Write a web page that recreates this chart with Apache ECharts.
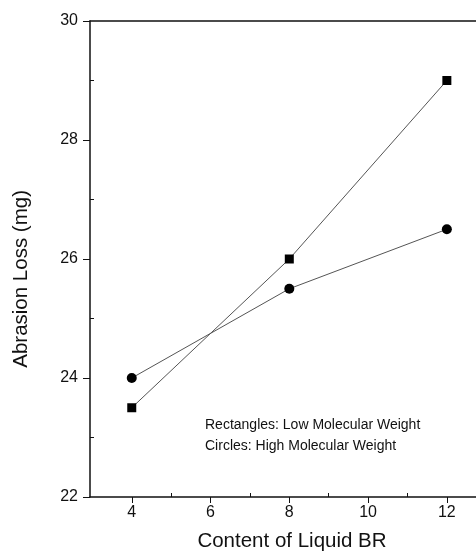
<!DOCTYPE html>
<html>
<head>
<meta charset="utf-8">
<script src="https://cdn.jsdelivr.net/npm/echarts@6/dist/echarts.min.js"></script>
<style>
  html, body { margin: 0; padding: 0; background: #fff; }
  #chart { width: 476px; height: 554px; }
</style>
</head>
<body>
<div id="chart"></div>
<script>
// data
const contents = [4, 8, 12];
const lowMW = [23.5, 26.0, 29.0];   // rectangles
const highMW = [24.0, 25.5, 26.5];  // circles
const xMajor = [4, 6, 8, 10, 12];
const xMinor = [5, 7, 9, 11];
const yMinor = [23, 25, 27, 29];

const font = "'Liberation Sans', Arial, sans-serif";
const chart = echarts.init(document.getElementById("chart"));

const pairs = arr => contents.map((c, i) => [c, arr[i]]);

chart.setOption({
  animation: false,
  backgroundColor: "#fff",
  textStyle: { fontFamily: font },
  grid: { left: 90, right: 0, top: 21, bottom: 57, containLabel: false, outerBoundsMode: "none" },
  xAxis: [
    {
      type: "value",
      min: 2.94,
      max: 12.74,
      position: "bottom",
      axisLine: { lineStyle: { color: "#111", width: 1.5 } },
      axisTick: { customValues: xMajor, length: 6, inside: false, lineStyle: { color: "#111" } },
      axisLabel: { customValues: xMajor, fontSize: 16, color: "#111", margin: 8 },
      splitLine: { show: false }
    },
    {
      type: "value",
      min: 2.94,
      max: 12.74,
      position: "bottom",
      axisLine: { show: false },
      axisTick: { customValues: xMinor, length: 4, inside: true, lineStyle: { color: "#111" } },
      axisLabel: { show: false },
      splitLine: { show: false }
    },
    {
      type: "value",
      min: 2.94,
      max: 12.74,
      position: "top",
      axisLine: { lineStyle: { color: "#111", width: 1.5 } },
      axisTick: { show: false },
      axisLabel: { show: false },
      splitLine: { show: false }
    }
  ],
  yAxis: [
    {
      type: "value",
      min: 22,
      max: 30,
      interval: 2,
      axisLine: { lineStyle: { color: "#111", width: 1.5 } },
      axisTick: { length: 7, inside: false, lineStyle: { color: "#111" } },
      axisLabel: { fontSize: 16, color: "#111", margin: 12 },
      splitLine: { show: false }
    },
    {
      type: "value",
      min: 22,
      max: 30,
      position: "left",
      axisLine: { show: false },
      axisTick: { customValues: yMinor, length: 4, inside: true, lineStyle: { color: "#111" } },
      axisLabel: { show: false },
      splitLine: { show: false }
    }
  ],
  graphic: [
    {
      type: "text",
      left: 11,
      top: 190,
      rotation: Math.PI / 2,
      style: {
        text: "Abrasion Loss (mg)",
        font: "20.5px " + font,
        fill: "#111"
      }
    },
    {
      type: "text",
      x: 292,
      y: 541,
      style: {
        text: "Content of Liquid BR",
        font: "20.5px " + font,
        fill: "#111",
        align: "center",
        verticalAlign: "middle"
      }
    },
    {
      type: "text",
      left: 205,
      top: 415,
      style: {
        text: "Rectangles: Low Molecular Weight\nCircles: High Molecular Weight",
        font: "14px " + font,
        lineHeight: 21,
        fill: "#111"
      }
    }
  ],
  series: [
    {
      name: "Low Molecular Weight",
      type: "line",
      data: pairs(lowMW),
      symbol: "rect",
      symbolSize: 9,
      itemStyle: { color: "#000" },
      lineStyle: { color: "#555", width: 1 }
    },
    {
      name: "High Molecular Weight",
      type: "line",
      data: pairs(highMW),
      symbol: "circle",
      symbolSize: 10,
      itemStyle: { color: "#000" },
      lineStyle: { color: "#555", width: 1 }
    }
  ]
});
</script>
</body>
</html>
